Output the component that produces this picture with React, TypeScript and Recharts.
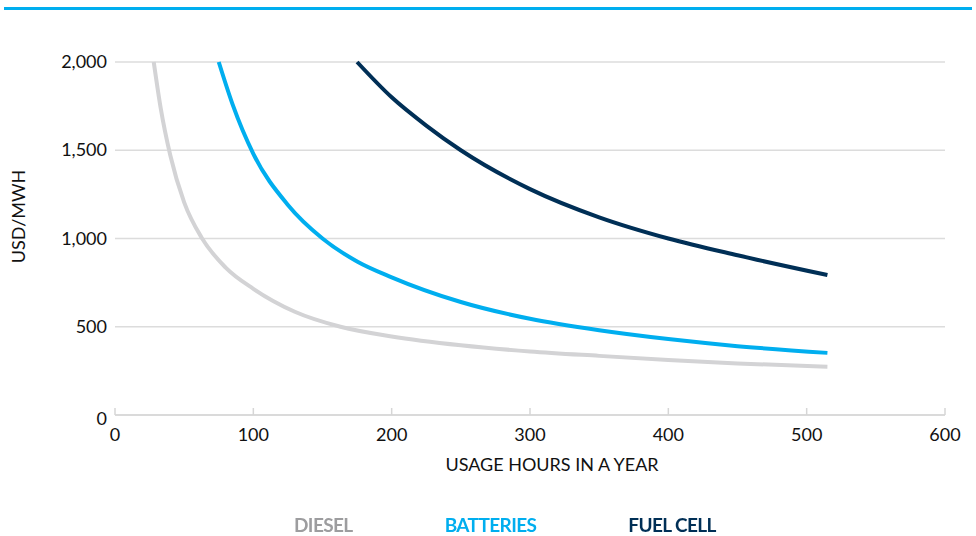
import { LineChart, Line, XAxis, YAxis, CartesianGrid } from "recharts";

const xTicks = [0, 100, 200, 300, 400, 500, 600];
const yTicks = [0, 500, 1000, 1500, 2000];

const dieselHours = [28, 33, 40, 50, 63, 80, 100, 130, 163, 200, 250, 300, 350, 400, 450, 515];
const dieselCost = [2000, 1740, 1470, 1205, 1000, 835, 715, 585, 500, 445, 395, 360, 335, 312, 292, 274];

const batteryHours = [75, 85, 100, 125, 150, 175, 200, 250, 300, 350, 400, 450, 515];
const batteryCost = [2000, 1760, 1480, 1190, 1000, 870, 780, 640, 545, 480, 430, 390, 352];

const fuelHours = [175, 200, 225, 250, 300, 350, 400, 450, 515];
const fuelCost = [2000, 1800, 1640, 1500, 1280, 1120, 1000, 905, 793];

const series = [
  { name: "DIESEL", hours: dieselHours, cost: dieselCost, color: "#d3d3d5", text: "#9d9d9f" },
  { name: "BATTERIES", hours: batteryHours, cost: batteryCost, color: "#00aeef", text: "#00aeef" },
  { name: "FUEL CELL", hours: fuelHours, cost: fuelCost, color: "#002f56", text: "#002f56" },
];

const FONT = "Lato, 'Open Sans', sans-serif";
const fmt = (v: number) => v.toLocaleString("en-US");

const XTick = (props: any) => {
  const { x, y, payload } = props;
  return (
    <g>
      <line x1={x} x2={x} y1={y} y2={y - 7} stroke="#d6d6d6" strokeWidth={1.5} />
      <text x={x} y={y + 26} textAnchor="middle" fontSize={18} fill="#111" fontFamily={FONT}>
        {payload.value}
      </text>
    </g>
  );
};

const YTick = (props: any) => {
  const { x, y, payload } = props;
  return (
    <text
      x={x - 8}
      y={y + (payload.value === 0 ? 4 : 0)}
      dy={6}
      textAnchor="end"
      fontSize={18}
      fill="#111"
      fontFamily={FONT}
    >
      {fmt(payload.value)}
    </text>
  );
};

export default function App() {
  return (
    <div style={{ position: "fixed", left: 0, top: 0, width: 976, height: 536, background: "#fff", fontFamily: FONT }}>
      <div style={{ position: "absolute", left: 4, top: 7, width: 968, height: 3, background: "#00aeef" }} />
      <LineChart width={976} height={536} margin={{ top: 62, right: 31, left: 0, bottom: 61 }}>
        <CartesianGrid vertical={false} stroke="#dcdcdc" strokeWidth={1.5} />
        <XAxis
          type="number"
          dataKey="hours"
          domain={[0, 600]}
          ticks={xTicks}
          height={60}
          tickSize={0}
          tickMargin={0}
          tickLine={false}
          axisLine={{ stroke: "#d6d6d6", strokeWidth: 1.5 }}
          tick={<XTick />}
          label={{
            value: "USAGE HOURS IN A YEAR",
            position: "insideBottom",
            offset: 4,
            dx: 22,
            fontSize: 18,
            fill: "#111",
            fontFamily: FONT,
          }}
          allowDuplicatedCategory={false}
        />
        <YAxis
          type="number"
          domain={[0, 2000]}
          ticks={yTicks}
          width={115}
          tickSize={0}
          tickMargin={0}
          tickLine={false}
          axisLine={false}
          tick={<YTick />}
          label={{
            value: "USD/MWH",
            angle: -90,
            position: "insideLeft",
            offset: 19,
            dy: -22,
            fontSize: 18,
            fill: "#111",
            fontFamily: FONT,
            style: { textAnchor: "middle" },
          }}
        />
        {series.map((s) => (
          <Line
            key={s.name}
            data={s.hours.map((h, i) => ({ hours: h, cost: s.cost[i] }))}
            dataKey="cost"
            type="monotone"
            stroke={s.color}
            strokeWidth={4}
            dot={false}
            activeDot={false}
            isAnimationActive={false}
          />
        ))}
      </LineChart>
      <div style={{ position: "absolute", left: 294, top: 513, display: "flex", gap: 92 }}>
        {series.map((s) => (
          <span
            key={s.name}
            style={{ color: s.text, fontWeight: 700, fontSize: 19, letterSpacing: -0.6, lineHeight: "24px" }}
          >
            {s.name}
          </span>
        ))}
      </div>
    </div>
  );
}
